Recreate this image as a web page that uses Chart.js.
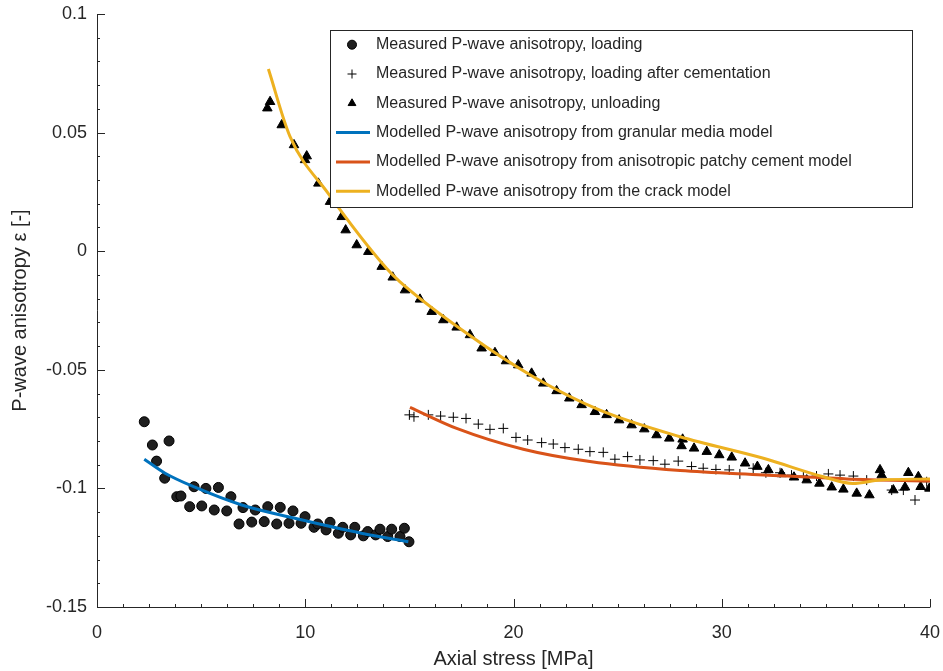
<!DOCTYPE html>
<html lang="en">
<head>
<meta charset="UTF-8">
<title>P-wave anisotropy vs axial stress</title>
<script src="https://cdn.jsdelivr.net/npm/chart.js"></script>
<style>
  html, body { margin: 0; padding: 0; background: #fff; }
</style>
</head>
<body>
<canvas id="chart" width="943" height="671"></canvas>
<script>
// --- measured, loading (dots)
const loadingX = [2.27, 2.66, 2.86, 3.25, 3.46, 3.83, 4.03, 4.45, 4.66, 5.03, 5.23, 5.63, 5.83, 6.23, 6.43,
  6.82, 7.01, 7.43, 7.60, 8.03, 8.20, 8.63, 8.80, 9.22, 9.41, 9.80, 9.99, 10.42, 10.60, 11.00, 11.19,
  11.59, 11.80, 12.18, 12.38, 12.79, 13.00, 13.38, 13.59, 13.96, 14.15, 14.55, 14.76, 14.98];
const loadingY = [-0.0719, -0.0817, -0.0885, -0.0957, -0.0800, -0.1035, -0.1032, -0.1077, -0.0993, -0.1074, -0.1000,
  -0.1091, -0.0996, -0.1095, -0.1035, -0.1150, -0.1081, -0.1142, -0.1091, -0.1140, -0.1077, -0.1150, -0.1080,
  -0.1147, -0.1095, -0.1147, -0.1119, -0.1164, -0.1150, -0.1175, -0.1143, -0.1189, -0.1164, -0.1196, -0.1164,
  -0.1200, -0.1182, -0.1196, -0.1172, -0.1203, -0.1172, -0.1203, -0.1168, -0.1225];

// --- measured, loading after cementation (crosses)
const cementX = [15.00, 15.22, 15.91, 16.50, 17.11, 17.72, 18.31, 18.87, 19.51, 20.12, 20.68, 21.35, 21.91,
  22.47, 23.11, 23.67, 24.31, 24.87, 25.48, 26.07, 26.71, 27.27, 27.91, 28.55, 29.11, 29.72, 30.36, 30.87,
  31.51, 32.12, 32.80, 33.35, 33.92, 34.55, 35.12, 35.68, 36.32, 36.96, 38.16, 38.72, 39.28, 39.84];
const cementY = [-0.0690, -0.0698, -0.0690, -0.0695, -0.0700, -0.0705, -0.0729, -0.0751, -0.0747, -0.0785,
  -0.0796, -0.0807, -0.0813, -0.0828, -0.0835, -0.0845, -0.0848, -0.0877, -0.0866, -0.0880, -0.0883, -0.0898,
  -0.0885, -0.0908, -0.0915, -0.0920, -0.0922, -0.0939, -0.0915, -0.0934, -0.0934, -0.0944, -0.0948, -0.0948,
  -0.0939, -0.0944, -0.0948, -0.0965, -0.1007, -0.1007, -0.1049, -0.0972];

// --- measured, unloading (triangles)
const unloadX = [8.18, 8.31, 8.87, 9.46, 9.99, 10.07, 10.63, 11.19, 11.75, 11.94, 12.47, 13.03, 13.67, 14.20,
  14.79, 15.51, 16.07, 16.63, 17.27, 17.91, 18.47, 19.11, 19.64, 20.23, 20.87, 21.43, 22.07, 22.68, 23.27,
  23.91, 24.47, 25.07, 25.67, 26.28, 26.87, 27.48, 28.07, 28.12, 28.67, 29.28, 29.88, 30.48, 31.12, 31.71,
  32.24, 32.88, 33.47, 34.08, 34.69, 35.28, 35.84, 36.48, 37.09, 37.60, 37.68, 38.24, 38.80, 38.96, 39.44,
  39.55, 39.97];
const unloadY = [0.0603, 0.0630, 0.0532, 0.0448, 0.0385, 0.0401, 0.0286, 0.0209, 0.0145, 0.0089, 0.0026,
  -0.0002, -0.0065, -0.0110, -0.0164, -0.0203, -0.0255, -0.0290, -0.0321, -0.0353, -0.0409, -0.0428, -0.0463,
  -0.0480, -0.0515, -0.0557, -0.0589, -0.0620, -0.0648, -0.0677, -0.0690, -0.0712, -0.0733, -0.0750, -0.0775,
  -0.0789, -0.0821, -0.0793, -0.0831, -0.0845, -0.0859, -0.0869, -0.0894, -0.0908, -0.0922, -0.0939, -0.0953,
  -0.0965, -0.0979, -0.0995, -0.1004, -0.1021, -0.1028, -0.0922, -0.0944, -0.1007, -0.0995, -0.0934, -0.0951,
  -0.0993, -0.1000];

// --- model curves
const granularX = [2.27, 3.27, 4.70, 6.95, 9.50, 12.70, 14.95];
const granularY = [-0.0877, -0.0936, -0.0995, -0.1070, -0.1126, -0.1189, -0.1225];

const patchyX = [15.03, 17.27, 20.47, 23.67, 28.00, 32.00, 36.00, 40.00];
const patchyY = [-0.0658, -0.0747, -0.0835, -0.0887, -0.0925, -0.0943, -0.0960, -0.0969];

const crackX = [8.23, 9.27, 11.10, 13.90, 14.55, 17.75, 20.95, 24.15, 28.00, 32.00, 34.88, 36.30, 37.60, 40.00];
const crackY = [0.0768, 0.0483, 0.0244, -0.0072, -0.0129, -0.0346, -0.0529, -0.0670, -0.0782, -0.0873, -0.0951,
  -0.0979, -0.0965, -0.0960];

// --- axes
const xTicks = [0, 10, 20, 30, 40];
const xTickLabels = ['0', '10', '20', '30', '40'];
const yTicks = [-0.15, -0.1, -0.05, 0, 0.05, 0.1];
const yTickLabels = ['-0.15', '-0.1', '-0.05', '0', '0.05', '0.1'];

const legendLabels = [
  'Measured P-wave anisotropy, loading',
  'Measured P-wave anisotropy, loading after cementation',
  'Measured P-wave anisotropy, unloading',
  'Modelled P-wave anisotropy from granular media model',
  'Modelled P-wave anisotropy from anisotropic patchy cement model',
  'Modelled P-wave anisotropy from the crack model'
];

const FONT = '"Liberation Sans", Arial, Helvetica, sans-serif';
const AXIS_COLOR = '#262626';

function zip(xs, ys) {
  return xs.map((x, i) => ({ x: x, y: ys[i] }));
}

function pointSet(label, xs, ys, style, radius, fill, order) {
  return {
    label: label,
    data: zip(xs, ys),
    showLine: false,
    pointStyle: style,
    pointRadius: radius,
    pointHoverRadius: radius,
    pointBackgroundColor: fill,
    pointBorderColor: '#000',
    pointBorderWidth: 1,
    order: order
  };
}

function lineSet(label, xs, ys, color, order) {
  return {
    label: label,
    data: zip(xs, ys),
    showLine: true,
    borderColor: color,
    backgroundColor: color,
    borderWidth: 3,
    pointRadius: 0,
    cubicInterpolationMode: 'monotone',
    fill: false,
    order: order
  };
}

// MATLAB-like axes: left + bottom lines, inward ticks
const axesPlugin = {
  id: 'matlabAxes',
  afterDraw(chart) {
    const { ctx, chartArea: a, scales: { x, y } } = chart;
    ctx.save();
    ctx.strokeStyle = AXIS_COLOR;
    ctx.lineWidth = 1;
    ctx.beginPath();
    ctx.moveTo(a.left + 0.5, a.top);
    ctx.lineTo(a.left + 0.5, a.bottom + 0.5);
    ctx.lineTo(a.right + 0.5, a.bottom + 0.5);
    ctx.stroke();

    ctx.beginPath();
    xTicks.forEach(v => {
      const px = Math.round(x.getPixelForValue(v)) + 0.5;
      ctx.moveTo(px, a.bottom);
      ctx.lineTo(px, a.bottom - 8);
    });
    yTicks.forEach(v => {
      const py = Math.round(y.getPixelForValue(v)) + 0.5;
      ctx.moveTo(a.left, py);
      ctx.lineTo(a.left + 8, py);
    });
    // minor ticks
    for (let i = 0; i <= 32; i++) {
      const px = Math.round(x.getPixelForValue(i * 1.25)) + 0.5;
      ctx.moveTo(px, a.bottom);
      ctx.lineTo(px, a.bottom - 3);
    }
    for (let i = 0; i <= 25; i++) {
      const py = Math.round(y.getPixelForValue(-0.15 + i * 0.01)) + 0.5;
      ctx.moveTo(a.left, py);
      ctx.lineTo(a.left + 3, py);
    }
    ctx.stroke();
    ctx.restore();
  }
};

// legend box in the upper right
const legendPlugin = {
  id: 'boxLegend',
  afterDraw(chart) {
    const ctx = chart.ctx;
    const box = { left: 330, top: 30, right: 912, bottom: 207 };
    const rowH = 29.3, firstRow = 44.7;
    ctx.save();
    ctx.fillStyle = '#fff';
    ctx.fillRect(box.left, box.top, box.right - box.left, box.bottom - box.top);
    ctx.strokeStyle = AXIS_COLOR;
    ctx.lineWidth = 1;
    ctx.strokeRect(box.left + 0.5, box.top + 0.5, box.right - box.left, box.bottom - box.top);

    chart.data.datasets.forEach((ds, i) => {
      const cy = firstRow + i * rowH;
      if (ds.showLine) {
        ctx.strokeStyle = ds.borderColor;
        ctx.lineWidth = 3;
        ctx.beginPath();
        ctx.moveTo(336, cy);
        ctx.lineTo(370, cy);
        ctx.stroke();
      } else {
        ctx.fillStyle = ds.pointBackgroundColor;
        ctx.strokeStyle = ds.pointBorderColor;
        ctx.lineWidth = 1;
        Chart.helpers.drawPoint(ctx, { pointStyle: ds.pointStyle, radius: 4.5, borderWidth: 1, rotation: 0 }, 352, cy);
      }
      ctx.fillStyle = AXIS_COLOR;
      ctx.font = '16px ' + FONT;
      ctx.textBaseline = 'middle';
      ctx.textAlign = 'left';
      ctx.fillText(legendLabels[i], 376, cy);
    });
    ctx.restore();
  }
};

const datasets = [
  pointSet(legendLabels[0], loadingX, loadingY, 'circle', 5, '#1f1f1f', 6),
  pointSet(legendLabels[1], cementX, cementY, 'cross', 5, '#000', 5),
  pointSet(legendLabels[2], unloadX, unloadY, 'triangle', 5.5, '#000', 4),
  lineSet(legendLabels[3], granularX, granularY, '#0072BD', 2),
  lineSet(legendLabels[4], patchyX, patchyY, '#D95319', 1),
  lineSet(legendLabels[5], crackX, crackY, '#EDB120', 0)
];

new Chart(document.getElementById('chart').getContext('2d'), {
  type: 'scatter',
  data: { datasets: datasets },
  options: {
    responsive: false,
    animation: false,
    layout: { padding: { left: 0, top: 14, right: 13, bottom: 0 } },
    plugins: {
      legend: { display: false },
      tooltip: { enabled: false }
    },
    scales: {
      x: {
        type: 'linear',
        min: 0,
        max: 40,
        afterBuildTicks: s => { s.ticks = xTicks.map(v => ({ value: v })); },
        afterFit: s => { s.height = 64; s.paddingLeft = 0; s.paddingRight = 0; },
        grid: { display: false, drawTicks: false },
        border: { display: false },
        ticks: {
          callback: v => xTickLabels[xTicks.indexOf(v)],
          font: { family: FONT, size: 18 },
          color: AXIS_COLOR,
          padding: 15,
          maxRotation: 0,
          autoSkip: false
        },
        title: {
          display: true,
          text: 'Axial stress [MPa]',
          font: { family: FONT, size: 20 },
          color: AXIS_COLOR,
          padding: { top: 0, bottom: 0 }
        }
      },
      y: {
        type: 'linear',
        min: -0.15,
        max: 0.1,
        afterBuildTicks: s => { s.ticks = yTicks.map(v => ({ value: v })); },
        afterFit: s => { s.width = 97; s.paddingTop = 0; s.paddingBottom = 0; },
        grid: { display: false, drawTicks: false },
        border: { display: false },
        ticks: {
          callback: v => yTickLabels[yTicks.indexOf(v)],
          font: { family: FONT, size: 18 },
          color: AXIS_COLOR,
          padding: 10,
          autoSkip: false
        },
        title: {
          display: true,
          text: 'P-wave anisotropy ε [-]',
          font: { family: FONT, size: 20 },
          color: AXIS_COLOR,
          padding: { top: 8, bottom: 0 }
        }
      }
    }
  },
  plugins: [axesPlugin, legendPlugin]
});
</script>
</body>
</html>
